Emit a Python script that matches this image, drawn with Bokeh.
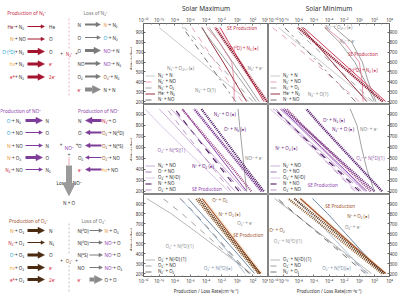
import math
from bokeh.plotting import figure
from bokeh.layouts import row, column
from bokeh.models import (ColumnDataSource, Range1d, FixedTicker, CustomJSTickFormatter,
                          Arrow, NormalHead)
from bokeh.embed import file_html
from bokeh.resources import INLINE
from bokeh.core.properties import value

FONT = "Noto Sans"
DARK = "#333333"

# ---------------- data: altitude grid (km) and log10 rates (cm^-3 s^-1) ----------------
ALT = [200, 400, 600, 800, 950]
X_TICKS = [-12, -10, -8, -6, -4, -2, 0, 2, 4]
Y_TICKS = [200, 300, 400, 500, 600, 700, 800, 900]

# Row 1: N2+  -- solar maximum
n2max_N2p_N = [1.5, -1.6, -4.6, -7.7, -10.0]
n2max_N2p_NO = [0.6, -1.1, -2.8, -4.5, -5.8]
n2max_N2p_O2 = [2.0, -0.3, -2.7, -5.0, -6.8]
n2max_Hep_N2 = [1.2, -0.3, -1.8, -3.4, -4.5]
n2max_Np_NO = [-0.2, -2.0, -3.8, -5.6, -7.0]
n2max_SE = [3.8, 2.0, 0.3, -1.5, -2.8]
n2max_O2D_N2 = [3.4, 1.9, 0.4, -1.1, -2.2]
n2max_N2p_e = [2.8, 1.1, -0.6, -2.3, -3.6]
n2max_N2p_O21 = [2.4, 0.6, -1.3, -3.2, -4.6]
n2max_N2p_O = [-0.4, -0.4, -0.7, -2.3, -3.9]
# Row 1: N2+  -- solar minimum
n2min_N2p_N = [1.5, -1.8, -5.0, -8.3, -10.7]
n2min_N2p_NO = [0.0, -3.0, -6.0, -9.0, -11.5]
n2min_N2p_O2 = [1.8, -1.0, -3.8, -6.6, -8.6]
n2min_Hep_N2 = [1.0, -1.3, -3.6, -5.9, -7.6]
n2min_Np_NO = [-0.5, -3.0, -5.5, -8.0, -9.9]
n2min_SE = [3.1, 0.1, -2.9, -5.9, -8.1]
n2min_O2D_N2 = [3.5, 0.6, -2.3, -5.2, -7.4]
n2min_N2p_e = [2.2, 1.2, 0.4, -1.0, -3.3]
n2min_N2p_O21 = [2.0, 0.8, -0.6, -2.6, -4.6]
n2min_N2p_O = [0.5, 0.4, 0.0, -2.0, -4.5]
# Row 2: NO+  -- solar maximum
nomax_N2p_NO = [-0.3, -2.8, -5.4, -8.0, -10.0]
nomax_Op_NO = [0.5, -1.8, -4.1, -6.4, -8.2]
nomax_O2p_N2D = [-1.1, -4.0, -6.9, -9.8, -11.8]
nomax_Np_NO = [0.2, -2.0, -4.2, -6.4, -8.0]
nomax_O2p_NO = [-0.8, -3.0, -5.2, -7.4, -9.0]
nomax_N2p_O = [3.1, 0.8, -1.5, -3.8, -5.5]
nomax_Op_N2 = [3.4, 1.2, -0.9, -3.0, -4.6]
nomax_Np_O2 = [1.8, -0.5, -2.9, -5.3, -7.1]
nomax_SE = [1.2, -1.0, -3.2, -5.4, -7.0]
nomax_NOp_e = [1.2, 0.9, 0.6, 0.3, 0.1]
nomax_O2p_N4S = [1.0, -1.5, -4.0, -6.5, -8.5]
# Row 2: NO+  -- solar minimum
nomin_N2p_NO = [0.7, -2.5, -5.7, -8.9, -11.3]
nomin_Op_NO = [0.3, -2.8, -5.9, -9.0, -11.4]
nomin_O2p_N2D = [-0.3, -3.3, -6.3, -9.3, -11.8]
nomin_Np_NO = [0.0, -3.0, -6.0, -9.0, -11.2]
nomin_O2p_NO = [-0.6, -3.4, -6.2, -9.0, -11.0]
nomin_N2p_O = [2.0, -1.2, -4.4, -7.6, -10.0]
nomin_Op_N2 = [3.0, 0.3, -2.4, -5.1, -7.0]
nomin_Np_O2 = [1.5, -1.5, -4.5, -7.5, -9.6]
nomin_SE = [1.0, -2.0, -5.0, -8.0, -10.3]
nomin_NOp_e = [2.0, 1.0, 0.3, -0.3, -1.2]
nomin_O2p_N2D1 = [0.8, -2.2, -5.2, -8.2, -10.5]
# Row 3: O2+  -- solar maximum
o2max_O2p_N2D1 = [1.8, -1.6, -5.0, -8.5, -11.6]
o2max_O2p_NO = [1.6, -1.3, -4.2, -7.1, -9.5]
o2max_N2p_O2 = [1.5, -0.8, -3.1, -5.4, -7.3]
o2max_Op_O2 = [2.9, 0.8, -1.3, -3.4, -4.9]
o2max_Np_O2 = [2.7, 0.5, -1.6, -3.7, -5.3]
o2max_SE = [3.0, 1.0, -1.0, -3.0, -4.5]
o2max_O2p_e = [2.2, 0.0, -2.3, -4.6, -6.3]
o2max_O2p_N2D = [1.0, -1.0, -3.2, -5.5, -7.3]
# Row 3: O2+  -- solar minimum
o2min_O2p_N2D1 = [1.6, -1.8, -5.2, -8.6, -11.2]
o2min_O2p_NO = [1.2, -2.0, -5.3, -8.6, -11.0]
o2min_N2p_O2 = [0.8, -2.3, -5.4, -8.5, -10.8]
o2min_Op_O2 = [3.3, 0.1, -3.0, -6.2, -8.6]
o2min_Np_O2 = [3.0, -0.3, -3.6, -6.9, -9.4]
o2min_SE = [3.5, 0.4, -2.6, -5.6, -7.8]
o2min_O2p_e = [3.1, 0.6, -1.8, -4.2, -6.2]
o2min_O2p_N2D = [1.0, -1.5, -4.0, -6.5, -8.6]

# ---------------- styles ----------------
S = {
    "lgray": ("#c4c4c4", 0.9, "solid"), "pinkd": ("#e899aa", 0.9, "dashed"),
    "grayd": ("#9a9a9a", 0.9, "dashed"), "dred": ("#8c1c2c", 0.9, "solid"),
    "dgdd": ("#666666", 0.9, "dashdot"), "gray": ("#8a8a8a", 0.8, "solid"),
    "red": ("#d0405e", 1.0, "solid"), "pink": ("#e07a95", 0.8, "solid"),
    "lpur": ("#c7a5d6", 0.9, "solid"), "purd": ("#9b6bb0", 0.9, "dashed"),
    "llpur": ("#d9c2e3", 0.9, "solid"), "dpurd": ("#4b1c5e", 1.1, "dashed"),
    "maud": ("#b58dc4", 0.9, "dashed"), "pur": ("#8e44ad", 1.0, "solid"),
    "mgray": ("#b0b0b0", 0.9, "solid"), "gdash": ("#999999", 0.9, "dashed"),
    "ddash": ("#666666", 0.9, "dashed"), "steel": ("#5f7d9b", 0.9, "solid"),
    "lsteel": ("#9ab0c6", 0.8, "solid"), "brown": ("#a0522d", 1.1, "solid"),
}
BEAD = {"dred": "#7a1024", "red": "#c8385a", "dpur": "#4a1560", "pur": "#6c2a80",
        "ppur": "#a0508c", "dbrown": "#5a2e10", "brown": "#8b5a2b"}

P11 = dict(
    curves=[("N₂⁺ + N", n2max_N2p_N, "lgray", True), ("N₂⁺ + NO", n2max_N2p_NO, "pinkd", True),
            ("N₂⁺ + O₂", n2max_N2p_O2, "grayd", True), ("He⁺ + N₂", n2max_Hep_N2, "dred", True),
            ("N⁺ + NO", n2max_Np_NO, "dgdd", True), ("e", n2max_N2p_e, "gray", False),
            ("o21", n2max_N2p_O21, "gray", False), ("o", n2max_N2p_O, "pink", False),
            ("o2d", n2max_O2D_N2, "red", False)],
    beads=[(n2max_SE, "dred")], band=(n2max_SE, "#f3c6cf"),
    labels=[("SE Production", -1.3, 945, "#c0304a"), ("O⁺(²D) + N₂ (●)", -1.1, 740, "#c0304a"),
            ("N₂⁺ + O₂₍₁₎ (●)", -9.0, 544, "#888888"), ("N₂⁺ + e⁻", 1.3, 544, "#888888"),
            ("N₂⁺ + O(1)", -5.4, 313, "#888888")])
P12 = dict(
    curves=[("N₂⁺ + N", n2min_N2p_N, "lgray", True), ("N₂⁺ + NO", n2min_N2p_NO, "pinkd", True),
            ("N₂⁺ + O₂", n2min_N2p_O2, "grayd", True), ("He⁺ + N₂", n2min_Hep_N2, "dred", True),
            ("N⁺ + NO", n2min_Np_NO, "dgdd", True), ("e", n2min_N2p_e, "gray", False),
            ("o21", n2min_N2p_O21, "gray", False), ("o", n2min_N2p_O, "pink", False),
            ("o2d", n2min_O2D_N2, "red", False)],
    beads=[(n2min_SE, "dred")], band=(n2min_SE, "#f3c6cf"),
    labels=[("N₂⁺ + O₂₍₁₎ (●)", -4.5, 950, "#888888"), ("N₂⁺ + e⁻", -2.6, 811, "#888888"),
            ("SE Production", -1.5, 678, "#c0304a"), ("O⁺(²D) + N₂ (●)", -1.5, 517, "#c0304a"),
            ("N₂⁺ + O(1)", -6.8, 277, "#888888")])
P21 = dict(
    curves=[("N₂⁺ + NO", nomax_N2p_NO, "lpur", True), ("O⁺ + NO", nomax_Op_NO, "purd", True),
            ("O₂⁺ + N(²D)", nomax_O2p_N2D, "llpur", True), ("N⁺ + NO", nomax_Np_NO, "dpurd", True),
            ("O₂⁺ + NO", nomax_O2p_NO, "maud", True), ("se", nomax_SE, "pur", False),
            ("e", nomax_NOp_e, "gray", False), ("n4s", nomax_O2p_N4S, "lpur", False)],
    beads=[(nomax_Np_O2, "ppur"), (nomax_N2p_O, "pur"), (nomax_Op_N2, "dpur")],
    band=(nomax_N2p_O, "#ebdcf2"),
    labels=[("N₂⁺ + O (●)", -3.0, 899, "#6c2a80"), ("O⁺ + N₂ (●)", -1.7, 771, "#6c2a80"),
            ("O₂⁺ + N(⁴S)(1)", -10.2, 571, "#9b6bb0"), ("NO⁺ + e⁻", 1.0, 507, "#888888"),
            ("N⁺ + O₂ (●)", -5.8, 434, "#6c2a80"), ("SE Production", -5.8, 216, "#8e44ad")])
P22 = dict(
    curves=[("N₂⁺ + NO", nomin_N2p_NO, "lpur", True), ("O⁺ + NO", nomin_Op_NO, "purd", True),
            ("O₂⁺ + N(²D)", nomin_O2p_N2D, "llpur", True), ("N⁺ + NO", nomin_Np_NO, "dpurd", True),
            ("O₂⁺ + NO", nomin_O2p_NO, "maud", True), ("se", nomin_SE, "pur", False),
            ("e", nomin_NOp_e, "gray", False), ("n2d", nomin_O2p_N2D1, "lpur", False)],
    beads=[(nomin_Np_O2, "ppur"), (nomin_N2p_O, "pur"), (nomin_Op_N2, "dpur")],
    band=(nomin_Op_N2, "#ebdcf2"),
    labels=[("O⁺ + N₂ (●)", -4.8, 853, "#6c2a80"), ("N₂⁺ + O (●)", -3.6, 771, "#6c2a80"),
            ("NO⁺ + e⁻", 0.1, 771, "#888888"), ("N⁺ + O₂ (●)", -11.1, 598, "#6c2a80"),
            ("O₂⁺ + N(²D)(1)", -0.4, 507, "#9b6bb0"), ("SE Production", -6.8, 261, "#8e44ad")])
P31 = dict(
    curves=[("O₂⁺ + N(²D) (1)", o2max_O2p_N2D1, "mgray", True), ("O₂⁺ + NO", o2max_O2p_NO, "gdash", True),
            ("N₂⁺ + O₂", o2max_N2p_O2, "ddash", True), ("e", o2max_O2p_e, "steel", False),
            ("n2d", o2max_O2p_N2D, "lsteel", False), ("se", o2max_SE, "brown", False)],
    beads=[(o2max_Np_O2, "brown"), (o2max_Op_O2, "dbrown")], band=(o2max_SE, "#f5dcc3"),
    labels=[("O⁺ + O₂", -3.2, 935, "#8b5a2b"), ("N⁺ + O₂ (●)", -2.4, 799, "#8b5a2b"),
            ("O₂⁺ + e⁻", 0.0, 707, "#888888"), ("SE Production", -0.5, 589, "#a0522d"),
            ("O₂⁺ + N(²D)(1)", -9.2, 471, "#999999"), ("O₂⁺ + N(²D)(●)", -4.3, 252, "#7f95ad")])
P32 = dict(
    curves=[("O₂⁺ + N(²D) (1)", o2min_O2p_N2D1, "mgray", True), ("O₂⁺ + NO", o2min_O2p_NO, "gdash", True),
            ("N₂⁺ + O₂", o2min_N2p_O2, "ddash", True), ("e", o2min_O2p_e, "steel", False),
            ("n2d", o2min_O2p_N2D, "lsteel", False), ("se", o2min_SE, "brown", False)],
    beads=[(o2min_Np_O2, "brown"), (o2min_Op_O2, "dbrown")], band=(o2min_SE, "#f5dcc3"),
    labels=[("SE Production", -4.5, 871, "#a0522d"), ("N⁺ + O₂ (●)", -1.6, 771, "#8b5a2b"),
            ("O₂⁺ + e⁻", -1.9, 662, "#888888"), ("O⁺ + O₂", -11.9, 635, "#8b5a2b"),
            ("O₂⁺ + N(²D)(1)", -11.3, 525, "#999999"), ("O₂⁺ + N(²D)(●)", -4.9, 252, "#7f95ad")])

TICK_JS = """
const e = Math.round(Math.log10(tick));
const m = {'-':'\u207b','0':'\u2070','1':'\u00b9','2':'\u00b2','3':'\u00b3','4':'\u2074',
           '5':'\u2075','6':'\u2076','7':'\u2077','8':'\u2078','9':'\u2079'};
return '10' + String(e).split('').map(c => m[c]).join('');
"""

DIAG_W = 132


def make_panel(r, c, spec):
    w = (268 - DIAG_W) if c == 0 else 132
    h = [104, 90, 102][r]
    p = figure(width=w, height=h, x_axis_type="log",
               x_range=Range1d(1e-12, 1e4), y_range=Range1d(170, 990),
               x_axis_location=("above" if r == 0 else "below"),
               y_axis_location=("left" if c == 0 else "right"),
               output_backend="svg", toolbar_location=None,
               min_border_left=0, min_border_right=0,
               min_border_top=0, min_border_bottom=0)
    p.grid.visible = False
    p.outline_line_color = "#666666"
    p.outline_line_width = 0.8
    xa = p.xaxis[0]
    xa.ticker = FixedTicker(ticks=[10.0 ** k for k in X_TICKS],
                            minor_ticks=[10.0 ** k for k in range(-12, 5)])
    xa.formatter = CustomJSTickFormatter(code=TICK_JS)
    ya = p.yaxis[0]
    ya.ticker = FixedTicker(ticks=Y_TICKS)
    for ax in (xa, ya):
        ax.major_label_text_font_size = "4.5px"
        ax.major_label_text_font = FONT
        ax.major_label_text_color = DARK
        ax.major_label_standoff = 1
        ax.major_tick_out = 0
        ax.major_tick_in = 2
        ax.minor_tick_out = 0
        ax.minor_tick_in = 1
        ax.axis_line_color = "#666666"
        ax.major_tick_line_color = "#666666"
        ax.minor_tick_line_color = "#888888"
        ax.axis_label_text_font = FONT
        ax.axis_label_text_font_style = "normal"
        ax.axis_label_text_color = DARK
        ax.axis_label_standoff = 1
    ya.major_label_standoff = 0
    if r == 0:
        xa.axis_label = "Solar Maximum" if c == 0 else "Solar Minimum"
        xa.axis_label_text_font_size = "6.5px"
    elif r == 2:
        xa.axis_label = "Production / Loss Rate(cm⁻³s⁻¹)"
        xa.axis_label_text_font_size = "4.5px"
    else:
        xa.visible = False

    band_vals, band_col = spec["band"]
    p.harea(y=ALT, x1=[10.0 ** (v - 0.3) for v in band_vals],
            x2=[10.0 ** (v + 0.3) for v in band_vals], fill_color=band_col, fill_alpha=0.7)
    for lab, vals, sk, leg in spec["curves"]:
        col, lw, dash = S[sk]
        kw = {"legend_label": lab} if leg else {}
        p.line([10.0 ** v for v in vals], ALT, line_color=col, line_width=lw, line_dash=dash, **kw)
    for vals, bk in spec["beads"]:
        xs = [10.0 ** v for v in vals]
        p.line(xs, ALT, line_color=BEAD[bk], line_width=2.2, line_dash="1 1")
    labs = spec["labels"]
    src = ColumnDataSource(dict(x=[10.0 ** l[1] for l in labs], y=[l[2] for l in labs],
                                t=[l[0] for l in labs], c=[l[3] for l in labs]))
    p.text(x="x", y="y", text="t", text_color="c", source=src, text_font=value(FONT),
           text_font_size="4.6px", text_baseline="middle", text_align="left")
    lg = p.legend[0]
    lg.location = "bottom_left"
    lg.label_text_font_size = "4.4px"
    lg.label_text_font = FONT
    lg.label_text_color = DARK
    lg.glyph_height = 5
    lg.glyph_width = 10
    lg.label_height = 5
    lg.label_standoff = 3
    lg.spacing = 0
    lg.padding = 1
    lg.margin = 1
    lg.background_fill_alpha = 0
    lg.border_line_alpha = 0
    return p


# ---------------- left reaction diagram ----------------
SPC = {"He⁺": "#8c1c2c", "N⁺": "#e8913a", "O⁺(²D)": "#2aa7d6", "O⁺": "#2aa7d6", "hν": "#f0a830",
       "e*": "#d8283a", "N₂⁺": "#c42e45", "NO⁺": "#8e44ad", "O₂⁺": "#9a5a2a", "e⁻": "#d8283a",
       "2e⁻": "#d8283a"}

N2_PROD_SPECIES = ["He⁺", "N⁺", "O⁺(²D)", "hν", "e*"]
N2_PROD_PARTNER = ["N₂", "NO", "N₂", "N₂", "N₂"]
N2_PROD_PRODUCT = ["He", "O", "O", "e⁻", "2e⁻"]
N2_PROD_WEIGHT = [1, 1, 3, 3, 3]
N2_LOSS_PARTNER = ["N", "O", "O", "NO", "O₂", "e⁻"]
N2_LOSS_ION = ["N⁺", "O⁺", "NO⁺", "NO⁺", "O₂⁺", ""]
N2_LOSS_REST = [" + N₂", " + N₂", " + N", " + N₂", " + N₂", "N + N"]
N2_LOSS_WEIGHT = [2, 1, 3, 2, 2, 4]

NO_PRODL_SPECIES = ["O⁺", "O⁺", "N⁺", "N⁺", "N₂⁺"]
NO_PRODL_PARTNER = ["N₂", "NO", "NO", "O₂", "NO"]
NO_PRODL_PRODUCT = ["N", "O", "N", "O", "N₂"]
NO_PRODL_WEIGHT = [3, 1, 1, 3, 1]
NO_PRODR_PRODUCT = ["N", "O", "O", "O₂", "e⁻"]
NO_PRODR_SPECIES = ["N₂⁺", "O₂⁺", "O₂⁺", "O₂⁺", "hν"]
NO_PRODR_PARTNER = [" + O", " + N(²D)", " + N(⁴S)", " + NO", " + NO"]
NO_PRODR_WEIGHT = [3, 2, 2, 1, 2]

O2_PROD_SPECIES = ["N⁺", "N₂⁺", "O⁺", "hν", "e*"]
O2_PROD_PARTNER = ["O₂", "O₂", "O₂", "O₂", "O₂"]
O2_PROD_PRODUCT = ["N", "N₂", "O", "e⁻", "2e⁻"]
O2_PROD_WEIGHT = [3, 1, 3, 3, 3]
O2_LOSS_PARTNER = ["N(²D)", "N(²D)", "N(⁴S)", "NO", "e⁻"]
O2_LOSS_ION = ["N⁺", "NO⁺", "NO⁺", "NO⁺", ""]
O2_LOSS_REST = [" + O₂", " + O", " + O", " + O₂", "O + O"]
O2_LOSS_WEIGHT = [1, 1, 1, 1, 4]

EM = {" ": .26, "+": .57, "N": .74, "O": .78, "H": .74, "D": .72, "S": .55, "e": .56, "h": .6,
      "ν": .52, "*": .5, "⁺": .36, "⁻": .36, "₂": .36, "²": .36, "⁴": .36, "(": .3, ")": .3, "2": .57}


def tw(s, fs):
    return sum(EM.get(ch, .58) for ch in s) * fs


FS = 4.6
items = []


def T(x, y, s, color=DARK, align="left", size=FS):
    items.append((x, y, s, color, align, size))


d = figure(width=DIAG_W, height=296, x_range=Range1d(0, DIAG_W), y_range=Range1d(296, 0),
           x_axis_location=None, y_axis_location=None, output_backend="svg",
           toolbar_location=None, min_border=0)
d.grid.visible = False
d.outline_line_color = None


def A(x0, y0, x1, y1, color, weight):
    lw = {1: 1.0, 2: 1.8, 3: 3.0, 4: 4.2}[weight]
    hs = {1: 3.5, 2: 4.5, 3: 6.5, 4: 8.0}[weight]
    d.add_layout(Arrow(x_start=x0, y_start=y0, x_end=x1, y_end=y1, line_color=color,
                       line_width=lw, end=NormalHead(size=hs, fill_color=color,
                                                     line_color=color, line_width=0.5)))


def prod_left(ys, species, partner, product, weight, color, jx=14.5, ax0=27, ax1=44, px=48.5):
    for i, y in enumerate(ys):
        T(jx, y, species[i], SPC.get(species[i], DARK), "right")
        T(jx, y, " + " + partner[i])
        A(ax0, y, ax1, y, color, weight[i])
        T(px, y, product[i], SPC.get(product[i], DARK) if product[i].startswith(("e", "2e")) else DARK)


def loss_right(ys, partner, ion, rest, weight, color, x0=77, ax0=84.5, ax1=100, px=103):
    for i, y in enumerate(ys):
        T(x0, y, partner[i], SPC.get(partner[i], DARK))
        A(ax0, y, ax1, y, color if weight[i] < 4 else "#8a8a8a", weight[i])
        if ion[i]:
            T(px, y, ion[i], SPC.get(ion[i], DARK))
        T(px + tw(ion[i], FS), y, rest[i])


# section 1: N2+
T(26, 12, "Production of N₂⁺", "#c42e45", "center", 4.8)
T(95, 12, "Loss of N₂⁺", "#777777", "center", 4.8)
prod_left([26, 38.5, 51, 63.5, 76.5], N2_PROD_SPECIES, N2_PROD_PARTNER, N2_PROD_PRODUCT,
          N2_PROD_WEIGHT, "#a3142e")
loss_right([24, 37, 50, 63, 76, 89], N2_LOSS_PARTNER, N2_LOSS_ION, N2_LOSS_REST,
           N2_LOSS_WEIGHT, "#7a7a7a")
d.segment(x0=[68.5, 68.5], y0=[18, 57], x1=[68.5, 68.5], y1=[49, 97], line_color="#e3a3ae",
          line_width=0.8, line_dash="2 2")
T(61, 53, "+", DARK, "center")
T(68.5, 53, "N₂⁺", "#c42e45", "center")
T(76, 53, "+", DARK, "center")

# section 2: NO+
T(20, 110, "Production of NO⁺", "#8e44ad", "center", 4.8)
T(98, 110, "Production of NO⁺", "#8e44ad", "center", 4.8)
ys2 = [120, 132, 145, 157, 169]
prod_left(ys2, NO_PRODL_SPECIES, NO_PRODL_PARTNER, NO_PRODL_PRODUCT, NO_PRODL_WEIGHT,
          "#7d3c98", jx=11.5, ax0=25, ax1=42, px=45)
for i, y in enumerate(ys2):
    pr = NO_PRODR_PRODUCT[i]
    T(77.5, y, pr, SPC.get(pr, DARK) if pr == "e⁻" else DARK)
    A(101, y, 85, y, "#7d3c98", NO_PRODR_WEIGHT[i])
    sp = NO_PRODR_SPECIES[i]
    T(101.5, y, sp, SPC.get(sp, DARK))
    T(101.5 + tw(sp, FS), y, NO_PRODR_PARTNER[i])
T(68.5, 147, "NO⁺", "#8e44ad", "center", 4.8)
T(60.5, 144, "+", DARK, "center")
T(76.5, 144, "+", DARK, "center")
T(68.5, 154, "+", DARK, "center")
d.segment(x0=[68.5], y0=[157], x1=[68.5], y1=[164], line_color="#d8283a", line_width=0.8,
          line_dash="1 1")
d.add_layout(Arrow(x_start=68.5, y_start=165, x_end=68.5, y_end=195, line_color="#9a9a9a",
                   line_width=6, end=NormalHead(size=12, fill_color="#9a9a9a",
                                                line_color="#9a9a9a")))
T(68.5, 182, "Loss of NO⁺", "#222222", "center", 4.6)
T(68.5, 202, "N + O", DARK, "center")

# section 3: O2+
T(28, 220, "Production of O₂⁺", "#a0522d", "center", 4.8)
T(93, 220, "Loss of O₂⁺", "#777777", "center", 4.8)
prod_left([230, 242, 254.5, 267, 279], O2_PROD_SPECIES, O2_PROD_PARTNER, O2_PROD_PRODUCT,
          O2_PROD_WEIGHT, "#4a2a10")
loss_right([230, 242, 254.5, 267, 279], O2_LOSS_PARTNER, O2_LOSS_ION, O2_LOSS_REST,
           O2_LOSS_WEIGHT, "#7a7a7a", x0=77, ax0=89, ax1=102, px=104)
d.segment(x0=[68.5, 68.5], y0=[223, 265], x1=[68.5, 68.5], y1=[255, 293], line_color="#b0b0b0",
          line_width=0.8, line_dash="2 2")
T(61, 260, "+", DARK, "center")
T(68.5, 260, "O₂⁺", "#9a5a2a", "center")
T(76, 260, "+", DARK, "center")

groups = {}
for x, y, s, c, a, fs in items:
    groups.setdefault((a, fs), []).append((x, y, s, c))
for (a, fs), lst in groups.items():
    src = ColumnDataSource(dict(x=[l[0] for l in lst], y=[l[1] for l in lst],
                                t=[l[2] for l in lst], c=[l[3] for l in lst]))
    d.text(x="x", y="y", text="t", text_color="c", source=src, text_font=value(FONT),
           text_font_size=f"{fs}px", text_align=a, text_baseline="middle")

# y-axis titles of the left panel column (drawn at the diagram's right edge)
d.text(x=[DIAG_W - 1.5] * 3, y=[58, 149, 239], text=["Altitude(km)"] * 3, angle=math.pi / 2,
       text_font=value(FONT), text_font_size="4px", text_color=DARK,
       text_align="center", text_baseline="middle")

specs = [[P11, P12], [P21, P22], [P31, P32]]
rows = [row(make_panel(r, 0, specs[r][0]), make_panel(r, 1, specs[r][1])) for r in range(3)]
layout = row(d, column(*rows))

open("out.html", "w").write(file_html(layout, INLINE))
